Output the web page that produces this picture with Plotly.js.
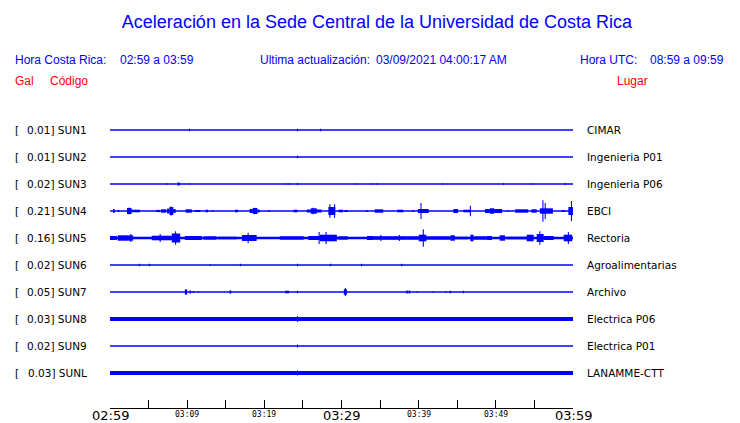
<!DOCTYPE html>
<html>
<head>
<meta charset="utf-8">
<script src="https://cdn.plot.ly/plotly-3.0.1.min.js"></script>
<style>html,body{margin:0;padding:0;background:#fff;}#chart{width:740px;height:423px;}</style>
</head>
<body>
<div id="chart"></div>
<script>
// ---------- DATA ----------
const codes  = ["SUN1","SUN2","SUN3","SUN4","SUN5","SUN6","SUN7","SUN8","SUN9","SUNL"];
const peaks  = ["0.01","0.01","0.02","0.21","0.16","0.02","0.05","0.03","0.02","0.03"];
const places = ["CIMAR","Ingenieria P01","Ingenieria P06","EBCI","Rectoria","Agroalimentarias","Archivo","Electrica P06","Electrica P01","LANAMME-CTT"];
// background noise level of each trace (amplitude units)
const noise  = [0.75,0.75,0.75,0.85,1.15,0.75,0.75,1.9,0.75,1.9];

// minutes after 02:59 for the x axis ticks
const tickMinutes = [0,5,10,15,20,25,30,35,40,45,50,55,60];
const tickLabelMin   = [0,10,20,30,40,50,60];
const tickLabelText  = ["02:59","03:09","03:19","03:29","03:39","03:49","03:59"];
const tickLabelMajor = [true,false,false,true,false,false,true];

// bursts: [start minute, end minute, amplitude]
const SUN1_BURSTS = [];
const SUN2_BURSTS = [];
const SUN3_BURSTS = [[8.75,9.05,1.5]];
const SUN4_BURSTS = [
 [0.4,0.6,2],[1.0,1.2,1],[2.2,2.8,3],[2.8,3.9,1.3],[6.0,6.5,1.1],[6.6,7.3,1.7],
 [7.4,7.7,2.5],[7.7,8.2,4],[8.2,8.5,2],[9.8,10.6,1.7],[11.0,11.7,1],[12.4,12.7,1.3],
 [13.2,13.4,0.8],[16.2,16.6,1.3],[18.1,18.5,2],[18.5,19.1,3],[19.1,19.4,1.5],
 [20.5,20.7,0.7],[23.8,24.3,1.3],[25.5,26.0,1.5],[26.0,26.8,2.7],[26.8,27.4,1.5],
 [28.3,29.2,4],[29.6,30.2,1.3],[30.4,30.8,1],[33.2,33.4,1],[34.3,35.4,1.7],
 [37.2,38.0,1.3],[39.2,39.4,1],[39.9,41.3,2],[44.5,45.1,2],[45.8,46.7,1.3],
 [48.6,49.2,2],[49.2,49.8,2.7],[49.8,50.8,2],[51.5,51.7,0.7],[52.5,54.2,1.7],
 [54.6,55.3,1.7],[55.7,57.4,2.7],[58.5,59.0,0.8],[59.4,60.0,4]
];
const SUN5_BURSTS = [
 [0.0,0.9,2],[1.0,3.0,2.7],[3.0,3.5,1],[3.9,4.05,0.8],[4.4,4.55,0.8],[5.4,8.0,2.3],
 [8.0,9.1,4.5],[9.7,11.9,2],[12.1,13.8,1.7],[14.0,16.4,1.3],[17.1,19.0,3],
 [19.7,21.2,1],[22.0,25.1,1.7],[25.7,27.2,2],[27.2,29.4,3.3],[29.5,30.8,1.7],
 [31.5,32.8,1],[33.3,34.1,2],[34.1,38.4,1.7],[38.4,40.0,1.7],[40.0,41.0,3.3],
 [41.0,44.1,1.7],[44.1,44.7,2.7],[44.7,46.4,1.3],[46.7,47.1,3.3],[47.1,48.8,1.7],
 [48.8,49.5,2],[50.5,51.2,2.7],[51.4,54.0,1.3],[54.0,54.9,3.3],[55.3,56.2,4],
 [56.2,57.5,2],[58.8,59.9,3.3]
];
const SUN6_BURSTS = [];
const SUN7_BURSTS = [
 [9.7,10.0,2.7],[10.3,10.5,1.5],[10.7,10.9,0.8],[11.4,11.5,0.8],[15.5,15.7,1.7],
 [22.7,23.2,1.3],[30.3,30.7,2.7],[38.4,38.6,1.5],[38.7,38.9,1.5],[44.0,44.2,1.2]
];
const SUN8_BURSTS = [];
const SUN9_BURSTS = [];
const SUNL_BURSTS = [];

// spikes: [minute, amplitude]
const SUN1_SPIKES = [[10.3,1.3],[24.3,1.3],[27.3,1.3]];
const SUN2_SPIKES = [[24.3,1.3]];
const SUN3_SPIKES = [[7.4,0.8],[10.3,0.8],[22.8,0.8],[23.2,0.8],[24.3,1.2],[31.8,0.8],
 [33.9,0.8],[34.6,1],[43.1,0.8],[51.0,1],[54.7,0.8],[58.9,0.8],[59.1,0.8]];
const SUN4_SPIKES = [[2.5,3.5],[7.9,4.5],[18.7,3.3],[26.3,3.2],[28.5,6.7],[29.1,6.7],[40.3,8],
 [46.7,5.3],[56.1,10.7],[56.4,8],[59.8,10]];
const SUN5_SPIKES = [[2.7,4],[6.5,4],[8.5,6.7],[17.9,5.3],[27.1,6],[28.0,6],[35.1,3],
 [37.5,3],[40.6,8.7],[55.7,6.7],[59.4,6]];
const SUN6_SPIKES = [[3.8,1.3],[5.1,1.3],[13.0,0.8],[16.9,1.3],[24.3,1.3],[28.6,1.3],[32.6,1.3],[37.8,1.3]];
const SUN7_SPIKES = [[24.3,1.3],[30.5,4],[39.8,0.8],[41.9,0.8],[43.5,0.8],[45.8,1.2]];
const SUN8_SPIKES = [[24.3,3]];
const SUN9_SPIKES = [[24.3,1.5]];
const SUNL_SPIKES = [[24.3,2.5]];

const BURSTS = [SUN1_BURSTS,SUN2_BURSTS,SUN3_BURSTS,SUN4_BURSTS,SUN5_BURSTS,SUN6_BURSTS,SUN7_BURSTS,SUN8_BURSTS,SUN9_BURSTS,SUNL_BURSTS];
const SPIKES = [SUN1_SPIKES,SUN2_SPIKES,SUN3_SPIKES,SUN4_SPIKES,SUN5_SPIKES,SUN6_SPIKES,SUN7_SPIKES,SUN8_SPIKES,SUN9_SPIKES,SUNL_SPIKES];

// ---------- STYLE ----------
const BLUE = "#0000ff";
const AMP = 1/27;          // amplitude unit -> row units
const SPIKE_W = 0.14;      // minutes
const L = 110, R = 573, T = 103, B = 408;
const px2x = p => (p - L) / (R - L);
const px2y = p => (B - p) / (B - T);

const traces = [];
codes.forEach((c, i) => {
  traces.push({type:"scatter", mode:"lines", x:[0,60], y:[i,i],
    line:{color:BLUE, width: noise[i]*2}, hoverinfo:"skip", showlegend:false});
  const xs=[], ws=[], bs=[], hs=[];
  BURSTS[i].forEach(b => { xs.push(b[0]); ws.push(b[1]-b[0]); bs.push(i - b[2]*AMP); hs.push(2*b[2]*AMP); });
  SPIKES[i].forEach(s => { xs.push(s[0]-SPIKE_W/2); ws.push(SPIKE_W); bs.push(i - s[1]*AMP); hs.push(2*s[1]*AMP); });
  if (xs.length) traces.push({type:"bar", x:xs, y:hs, base:bs, width:ws, offset:0,
    marker:{color:BLUE, line:{width:0}}, hoverinfo:"skip", showlegend:false});
});

const ann = [];
const hfont = {family:"Liberation Sans, Arial, sans-serif", size:12, color:BLUE};
const rfont = {family:"Liberation Sans, Arial, sans-serif", size:12, color:"#ff0000"};
function addText(text, pxX, pxY, anchor, font){
  ann.push({text, xref:"paper", yref:"paper", x:px2x(pxX), y:px2y(pxY), xanchor:anchor,
    yanchor:"middle", showarrow:false, font, borderpad:0});
}
addText("Hora Costa Rica:", 14, 60, "left", hfont);
addText("02:59 a 03:59", 119, 60, "left", hfont);
addText("Ultima actualización:", 259, 60, "left", hfont);
addText("03/09/2021 04:00:17 AM", 375, 60, "left", hfont);
addText("Hora UTC:", 579, 60, "left", hfont);
addText("08:59 a 09:59", 725, 60, "right", hfont);
addText("Gal", 14, 81, "left", rfont);
addText("Código", 49, 81, "left", rfont);
addText("Lugar", 649, 81, "right", rfont);

const lfont = {family:"DejaVu Sans, sans-serif", size:10.5, color:"#000"};
codes.forEach((c,i) => {
  ann.push({text:"[", xref:"paper", yref:"y", x:px2x(14), y:i, xanchor:"left", yanchor:"middle", showarrow:false, font:lfont, borderpad:0});
  ann.push({text:peaks[i]+"] "+c, xref:"paper", yref:"y", x:px2x(88), y:i, xanchor:"right", yanchor:"middle", showarrow:false, font:lfont, borderpad:0});
  ann.push({text:places[i], xref:"paper", yref:"y", x:px2x(586), y:i, xanchor:"left", yanchor:"middle", showarrow:false, font:lfont, borderpad:0});
});
tickLabelMin.forEach((m,k) => {
  const major = tickLabelMajor[k];
  ann.push({text:tickLabelText[k], xref:"x", yref:"paper", x:m, y:px2y(major?416:414), xanchor:"center", yanchor:"middle",
    showarrow:false, borderpad:0,
    font: major ? {family:"DejaVu Sans, sans-serif", size:13, color:"#000"}
                : {family:"DejaVu Sans Mono, monospace", size:8, color:"#000"}});
});

const layout = {
  width:740, height:423,
  margin:{l:L, r:740-R, t:T, b:423-B, pad:0},
  paper_bgcolor:"#fff", plot_bgcolor:"#fff",
  barmode:"overlay",
  showlegend:false,
  hovermode:false,
  title:{text:"Aceleración en la Sede Central de la Universidad de Costa Rica",
    font:{family:"Liberation Sans, Arial, sans-serif", size:18, color:BLUE},
    xref:"container", x:377/740, xanchor:"center", yref:"container", y:1-22/423, yanchor:"middle"},
  xaxis:{range:[0,60], showgrid:false, zeroline:false, showline:true, linecolor:"#000", linewidth:1,
    ticks:"inside", ticklen:8, tickwidth:1, tickcolor:"#000", tickmode:"array", tickvals:tickMinutes,
    showticklabels:false, fixedrange:true},
  yaxis:{range:[(B-T)/27-1, -1], visible:false, showgrid:false, zeroline:false, fixedrange:true},
  annotations:ann
};
Plotly.newPlot("chart", traces, layout, {displayModeBar:false, staticPlot:true});
</script>
</body>
</html>
